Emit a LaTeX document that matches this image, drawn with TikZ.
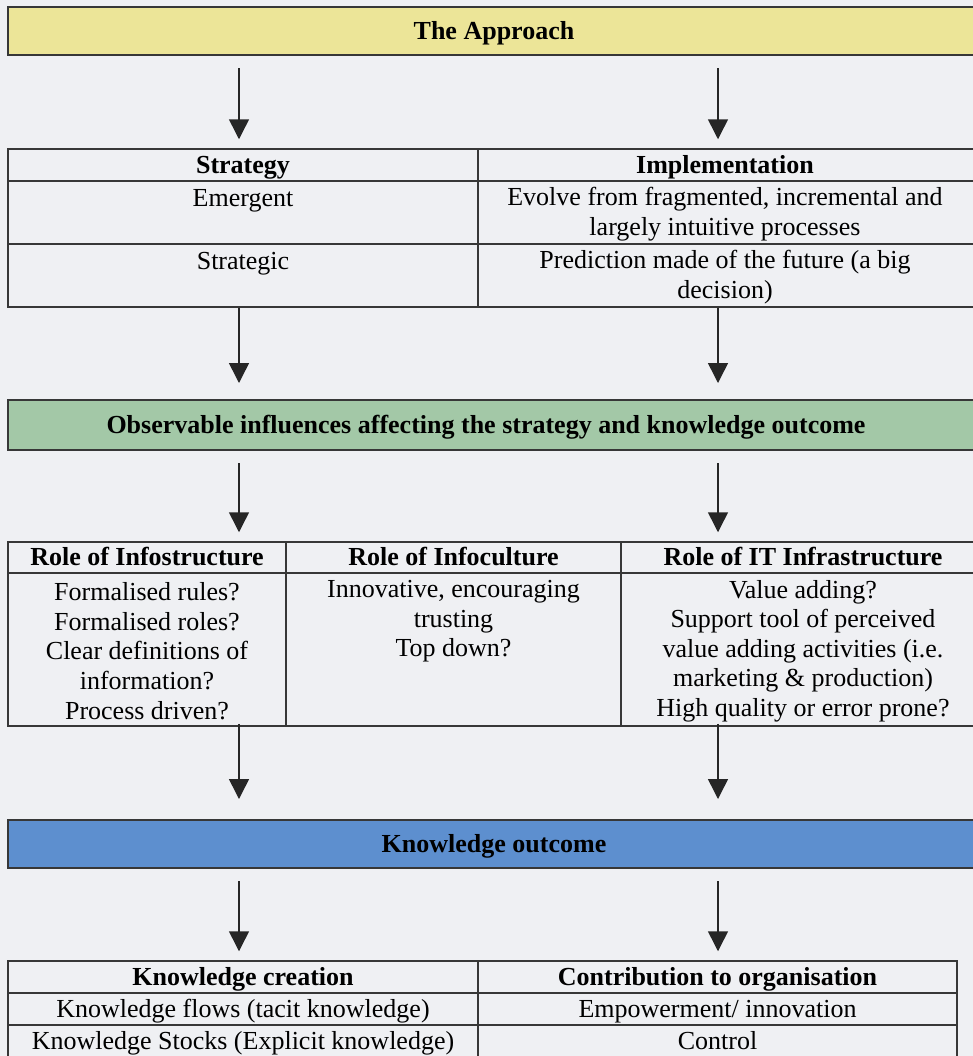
\documentclass[tikz,border=0pt]{standalone}
\usepackage{fontspec}
\setmainfont{Liberation Serif}
\usetikzlibrary{arrows.meta,fit}
\definecolor{pagebg}{RGB}{239,240,243}
\definecolor{apprfill}{RGB}{236,229,152}
\definecolor{inflfill}{RGB}{163,200,167}
\definecolor{outcfill}{RGB}{93,143,207}
\definecolor{rulegrey}{RGB}{55,55,55}
\newcommand\bodysize{\fontsize{13}{14.8}\selectfont}
\tikzset{
  band/.style={draw=rulegrey,line width=1pt,inner sep=0pt},
  bandtext/.style={font=\bodysize\bfseries,text height=11pt,text depth=3pt},
  frame/.style={draw=rulegrey,line width=0.75pt,inner sep=0pt},
  rules/.style={draw=rulegrey,line width=0.75pt},
  cell/.style={text height=11pt,text depth=3pt},
  flow/.style={-{Triangle[width=10pt,length=10pt]},line width=0.75pt,color=black!85},
}
\begin{document}
\begin{tikzpicture}[x=0.5pt,y=-0.5pt,font=\bodysize]
\fill[pagebg] (0,0) rectangle (973,1056);
\useasboundingbox (0,0) rectangle (973,1056);

\coordinate (lcol) at (239,0);
\coordinate (rcol) at (718,0);

\node[band,fill=apprfill,fit={(8,7) (980,55)},label={[bandtext]center:The Approach}] (appr) {};

\node[frame,fit={(8,149) (985,307)}] (tstrat) {};
\draw[rules] (8,181) -- (985,181) (8,244) -- (985,244) (478,149) -- (478,307);
\node[cell] (strh) at (243,165) {\bfseries Strategy};
\node[cell] (imph) at (725,165) {\bfseries Implementation};
\node[cell] (emgt) at (243,198.5) {Emergent};
\node[align=center] (evol) at (725,214) {Evolve from fragmented, incremental and\\largely intuitive processes};
\node[cell] (stgc) at (243,261.5) {Strategic};
\node[align=center] (pred) at (725,277) {Prediction made of the future (a big\\decision)};

\node[band,fill=inflfill,fit={(8,400) (980,450)},label={[bandtext,xshift=-4pt]center:Observable influences affecting the strategy and knowledge outcome}] (infl) {};

\node[frame,fit={(8,542) (985,726)}] (troles) {};
\draw[rules] (8,573) -- (985,573) (286,542) -- (286,726) (621,542) -- (621,726);
\node[cell] (infsh) at (147,557.5) {\bfseries Role of Infostructure};
\node[cell] (infch) at (453.5,557.5) {\bfseries Role of Infoculture};
\node[cell] (itih) at (803,557.5) {\bfseries Role of IT Infrastructure};
\node[align=center] (infs) at (147,651) {Formalised rules?\\Formalised roles?\\Clear definitions of\\information?\\Process driven?};
\node[align=center] (infc) at (453.5,621.5) {Innovative, encouraging\\trusting\\Top down?};
\node[align=center] (iti) at (803,651) {Value adding?\\Support tool of perceived\\value adding activities (i.e.\\marketing \& production)\\High quality or error prone?};

\node[band,fill=outcfill,fit={(8,820) (980,868)},label={[bandtext]center:Knowledge outcome}] (outc) {};

\node[frame,fit={(8,961) (957,1062)}] (tknow) {};
\draw[rules] (8,993) -- (957,993) (8,1025) -- (957,1025) (478,961) -- (478,1062);
\node[cell] (kcrh) at (243,977) {\bfseries Knowledge creation};
\node[cell] (kcoh) at (717.5,977) {\bfseries Contribution to organisation};
\node[cell] (kflw) at (243,1009) {Knowledge flows (tacit knowledge)};
\node[cell] (empw) at (717.5,1009) {Empowerment/ innovation};
\node[cell] (kstk) at (243,1041) {Knowledge Stocks (Explicit knowledge)};
\node[cell] (ctrl) at (717.5,1041) {Control};

\draw[flow,shorten <=6pt,shorten >=4.5pt] (appr.south -| lcol) -- (tstrat.north -| lcol);
\draw[flow,shorten <=6pt,shorten >=4.5pt] (appr.south -| rcol) -- (tstrat.north -| rcol);
\draw[flow,shorten >=8pt] (tstrat.south -| lcol) -- (infl.north -| lcol);
\draw[flow,shorten >=8pt] (tstrat.south -| rcol) -- (infl.north -| rcol);
\draw[flow,shorten <=6pt,shorten >=4.5pt] (infl.south -| lcol) -- (troles.north -| lcol);
\draw[flow,shorten <=6pt,shorten >=4.5pt] (infl.south -| rcol) -- (troles.north -| rcol);
\draw[flow,shorten <=-1.5pt,shorten >=10pt] (troles.south -| lcol) -- (outc.north -| lcol);
\draw[flow,shorten <=-1.5pt,shorten >=10pt] (troles.south -| rcol) -- (outc.north -| rcol);
\draw[flow,shorten <=6pt,shorten >=4.5pt] (outc.south -| lcol) -- (tknow.north -| lcol);
\draw[flow,shorten <=6pt,shorten >=4.5pt] (outc.south -| rcol) -- (tknow.north -| rcol);
\end{tikzpicture}
\end{document}
